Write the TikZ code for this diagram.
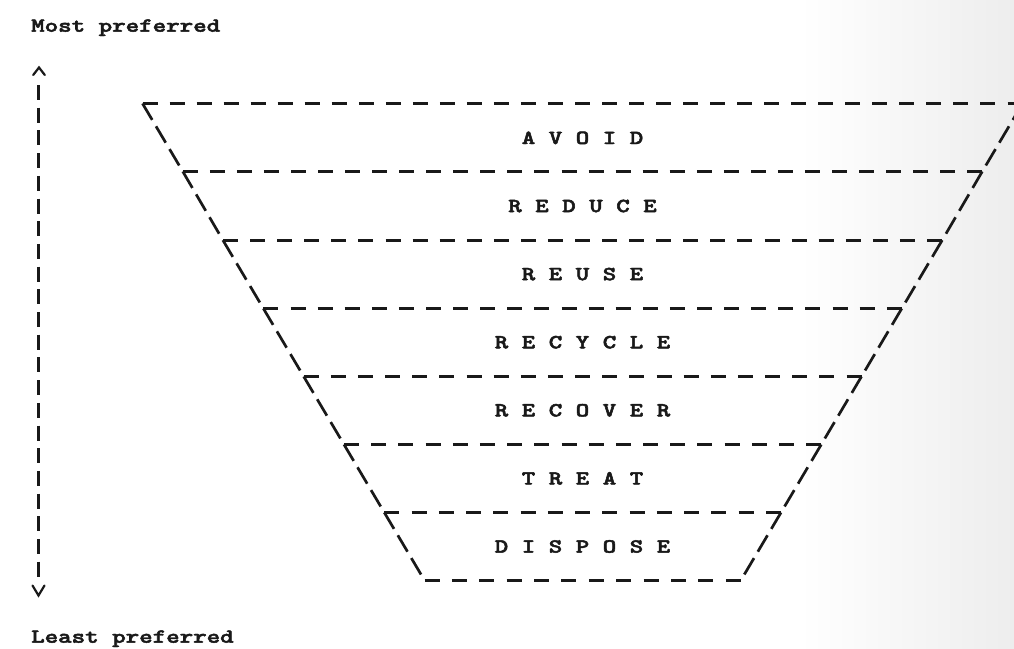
\documentclass[tikz,border=0pt]{standalone}
\usepackage{fontspec}
\newfontfamily\courbold{lmmonolt10-bold.otf}[FakeBold=2.2]
\usetikzlibrary{calc}
\newcommand\cw[1]{\scalebox{1.2857}[1]{#1}}
\begin{document}
\begin{tikzpicture}[x=1pt,y=-1pt]
\tikzset{
  ln/.style={line width=2.7pt, draw=black!90, line cap=butt},
  vln/.style={line width=2.5pt, draw=black!90, line cap=butt},
  head/.style={line width=2.2pt, draw=black!90, line cap=round, line join=miter},
  lbl/.style={font=\courbold\fontsize{20}{24}\selectfont, anchor=base, inner sep=0pt, text=black!90},
  side/.style={font=\courbold\fontsize{20}{24}\selectfont, anchor=base west, inner sep=0pt, text=black!90}
}
\useasboundingbox (0,0) rectangle (1014,648);
\fill[white] (0,0) rectangle (1014,648);
\shade[left color=white, right color=black!7] (800,0) rectangle (1014,648);
\clip (0,0) rectangle (1014,648);
% level corners
\foreach \i/\yy in {0/103.5,1/171.5,2/240.5,3/308.5,4/376.5,5/444.5,6/512.5,7/580.5} {
  \pgfmathsetmacro\xl{142.5+40.3*\i}
  \pgfmathsetmacro\xr{1022.5-40.25*\i}
  \coordinate (L\i) at (\xl,\yy);
  \coordinate (R\i) at (\xr,\yy);
}
% horizontal dashed lines
\foreach \i in {0,...,7} {
  \pgfmathsetmacro\len{(1022.5-40.25*\i)-(142.5+40.3*\i)}
  \pgfmathsetmacro\nn{max(1,round((\len-15)/27))}
  \pgfmathsetmacro\gap{(\len-15)/\nn-15}
  \draw[ln, dash pattern=on 15pt off \gap pt] (L\i) -- (R\i);
}
% slanted sides
\foreach \i [evaluate=\i as \j using int(\i+1)] in {0,...,6} {
  \draw[ln, dash pattern=on 19pt off 7.5pt] (L\i) -- (L\j);
  \draw[ln, dash pattern=on 19pt off 7.5pt] (R\i) -- (R\j);
}
% labels
\node[lbl] (avoid)   at (582.5,144.0) {\cw{A V O I D}};
\node[lbl] (reduce)  at (582.5,212.1) {\cw{R E D U C E}};
\node[lbl] (reuse)   at (582.5,280.2) {\cw{R E U S E}};
\node[lbl] (recycle) at (582.5,348.3) {\cw{R E C Y C L E}};
\node[lbl] (recover) at (582.5,416.4) {\cw{R E C O V E R}};
\node[lbl] (treat)   at (582.5,484.5) {\cw{T R E A T}};
\node[lbl] (dispose) at (582.5,552.6) {\cw{D I S P O S E}};
% preference axis
\node[side] (most)  at (31,31.7) {\cw{Most preferred}};
\node[side] (least) at (31,642.7) {\cw{Least preferred}};
\coordinate (atop) at (38.5,85);
\coordinate (abot) at (38.5,576.7);
\draw[vln, dash pattern=on 15pt off 7.7pt] (atop) -- (abot);
\coordinate (uptip) at (39,67.5);
\coordinate (dntip) at (38.5,595.5);
\draw[head] ($(uptip)+(-5.8,7.5)$) -- (uptip) -- ($(uptip)+(5.8,7.5)$);
\draw[head] ($(dntip)+(-6,-10)$) -- (dntip) -- ($(dntip)+(6,-10)$);
\end{tikzpicture}
\end{document}
